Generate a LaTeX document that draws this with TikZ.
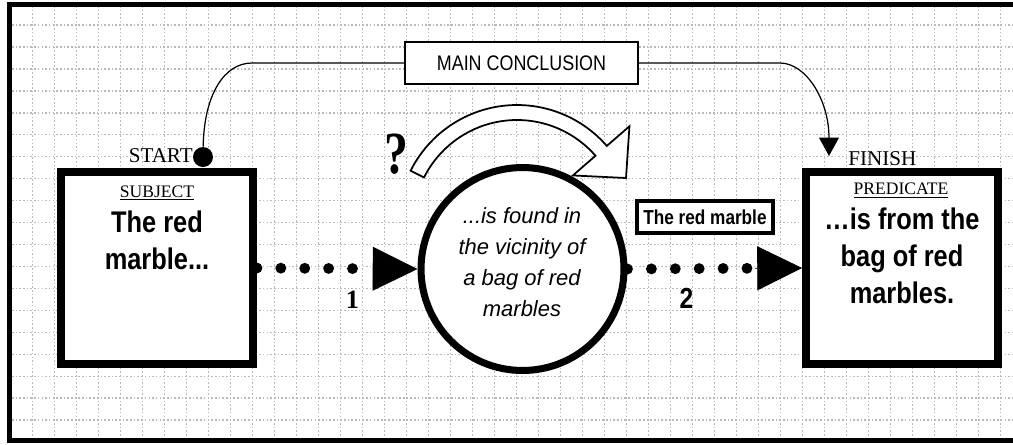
\documentclass[tikz,border=0pt]{standalone}
\usepackage{fontspec}
\setmainfont{Liberation Serif}
\setsansfont{Liberation Sans}
\newfontfamily\narrowsf[FakeStretch=0.85]{Liberation Sans}
\usetikzlibrary{arrows.meta}

\begin{document}
\begin{tikzpicture}[x=0.02cm,y=-0.02cm,
  gridline/.style={gray!55, line width=0.8pt, dash pattern=on 0.9pt off 1.2pt},
  bigbox/.style={draw, line width=4.5pt, fill=white, minimum size=3.84cm, inner sep=0pt},
  bigtext/.style={font=\narrowsf\bfseries\fontsize{17}{21}\selectfont, align=center},
  tag/.style={font=\fontsize{10}{12}\selectfont, anchor=base},
  concline/.style={line width=0.7pt},
  dotrow/.style={line width=6.2pt, line cap=round, dash pattern=on 0pt off 13.6pt},
  bigtip/.style={-{Triangle[length=25.5pt,width=25pt]}, line width=0.4pt}]
\useasboundingbox (0,0) rectangle (1013,444);
\foreach \gx in {0,...,44} \draw[gridline] (32.7+22*\gx,6) -- (32.7+22*\gx,438);
\foreach \gy in {0,...,18} \draw[gridline] (12,25+21.95*\gy) -- (1013,25+21.95*\gy);
\draw[line width=2.55pt] (1013,4.5) -- (9.5,4.5) -- (9.5,440.5) -- (1013,440.5);
\path
(157,268) node[bigbox] (subj) {}
(902,268) node[bigbox] (pred) {}
(522.5,269) node[draw, circle, line width=4pt, fill=white, minimum size=4.06cm, inner sep=0pt] (circ) {}
(521.5,63) node[draw, line width=1.1pt, fill=white, minimum width=4.66cm, minimum height=0.84cm, inner sep=0pt,
   font=\narrowsf\fontsize{12}{14}\selectfont] (concl) {MAIN CONCLUSION}
(705,217) node[draw, line width=2.3pt, fill=white, minimum width=2.72cm, minimum height=0.64cm, inner sep=0pt,
   font=\narrowsf\bfseries\fontsize{11.5}{13}\selectfont] (marble) {The red marble}
(203,157) node[circle, fill, minimum size=0.4cm, inner sep=0pt] (startdot) {}
(193,162) node[anchor=base east, inner sep=0pt, font=\fontsize{12}{14}\selectfont] (startlab) {START}
(848,165) node[anchor=base west, inner sep=0pt, font=\fontsize{12}{14}\selectfont] (finlab) {FINISH}
(157,197) node[tag] (subjlab) {\underline{SUBJECT}}
(901,194.5) node[tag] (predlab) {\underline{PREDICATE}}
(157,240) node[bigtext] (subjtxt) {The red\\marble...}
(902,256) node[bigtext] (predtxt) {…is from the\\bag of red\\marbles.}
(522,262) node[align=center, font=\sffamily\itshape\fontsize{12.5}{17.6}\selectfont] (circtxt)
   {...is found in\\the vicinity of\\a bag of red\\marbles}
(352.5,308) node[anchor=base, inner sep=0pt, font=\bfseries\fontsize{15}{15}\selectfont] (num1) {1}
(686.5,308) node[anchor=base, inner sep=0pt, font=\narrowsf\bfseries\fontsize{16.5}{16.5}\selectfont] (num2) {2}
(396.5,173) node[anchor=base, inner sep=0pt, font=\bfseries\fontsize{34}{34}\selectfont] (qmark) {\scalebox{0.8}[1]{?}}
(252,63) coordinate (bendL)
(780,63) coordinate (bendR)
(829,156) coordinate (fintip)
(517,224) coordinate (hc);
%% hollow curved arrow over the circle
\draw[line width=1pt, fill=white] ([shift={(hc)}]206.6:119) arc[start angle=206.6, end angle=319, radius=119]
   -- ([shift={(hc)}]319:149) -- (626,178) -- ([shift={(hc)}]319:74) -- ([shift={(hc)}]319:104)
   arc[start angle=319, end angle=206.6, radius=104] -- cycle;
\draw[concline] (startdot) .. controls (204,95) and (224,63) .. (bendL) -- (concl.west);
\draw[concline, -{Triangle[length=10.5pt,width=11.3pt]}] (concl.east) -- (bendR)
   .. controls (806,63) and (829,100) .. (fintip);
\path (subj.east) to coordinate[pos=0.72] (aux-1) (circ.west);
\draw[dotrow] (subj.east) -- (aux-1);
\draw[bigtip] (aux-1) -- (circ.west);
\path (circ.east) to coordinate[pos=0.73] (aux-2) (pred.west);
\draw[dotrow] (circ.east) -- (aux-2);
\draw[bigtip] (aux-2) -- (pred.west);
\end{tikzpicture}
\end{document}
